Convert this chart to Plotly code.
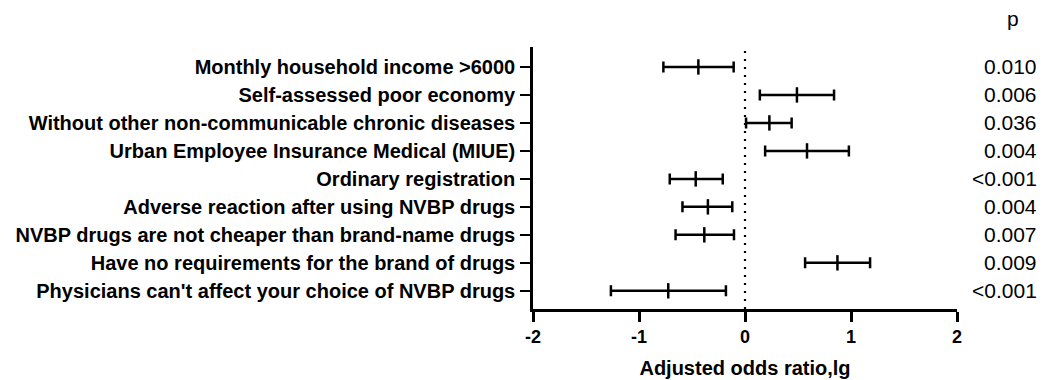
import plotly.graph_objects as go

categories = [
    "Monthly household income >6000",
    "Self-assessed poor economy",
    "Without other non-communicable chronic diseases",
    "Urban Employee Insurance Medical (MIUE)",
    "Ordinary registration",
    "Adverse reaction after using NVBP drugs",
    "NVBP drugs are not cheaper than brand-name drugs",
    "Have no requirements for the brand of drugs",
    "Physicians can't affect your choice of NVBP drugs",
]
estimate = [-0.44, 0.49, 0.23, 0.585, -0.465, -0.35, -0.384, 0.872, -0.724]
lower = [-0.77, 0.14, 0.01, 0.19, -0.71, -0.59, -0.655, 0.567, -1.265]
upper = [-0.107, 0.84, 0.44, 0.98, -0.21, -0.12, -0.104, 1.18, -0.18]
p_values = ["0.010", "0.006", "0.036", "0.004", "<0.001", "0.004", "0.007", "0.009", "<0.001"]
x_ticks = [-2, -1, 0, 1, 2]

rows = list(range(len(categories)))
FONT = "Liberation Sans, Arial, Helvetica, sans-serif"

fig = go.Figure()
fig.add_trace(go.Scatter(
    x=estimate, y=rows, mode="markers",
    marker=dict(symbol="line-ns-open", size=11, color="black",
                line=dict(width=2.5, color="black")),
    error_x=dict(type="data", symmetric=False,
                 array=[u - e for u, e in zip(upper, estimate)],
                 arrayminus=[e - l for e, l in zip(estimate, lower)],
                 color="black", thickness=2.5, width=5.5),
    showlegend=False, hoverinfo="skip",
))

fig.add_shape(type="line", x0=0, x1=0, xref="x", y0=0, y1=1, yref="paper",
              line=dict(color="black", width=2.2, dash="2px,6px"), layer="below")

for i, p in enumerate(p_values):
    fig.add_annotation(x=1.193, xref="paper", y=i, yref="y", text=p,
                       showarrow=False, xanchor="right", yanchor="middle",
                       font=dict(size=21, color="black", family=FONT))
fig.add_annotation(x=1.132, xref="paper", y=1.108, yref="paper", text="p",
                   showarrow=False, xanchor="center", yanchor="middle",
                   font=dict(size=21, color="black", family=FONT))

fig.update_layout(
    width=1045, height=380,
    margin=dict(l=525, r=96, t=38.5, b=78.7, autoexpand=False),
    paper_bgcolor="white", plot_bgcolor="white",
    font=dict(family=FONT, color="black"),
    xaxis=dict(range=[-2, 2], tickvals=x_ticks, ticktext=[f"<b>{t}</b>" for t in x_ticks],
               automargin=False,
               showgrid=False, zeroline=False, showline=True, linecolor="black",
               linewidth=2.5, ticks="outside", ticklen=10, tickwidth=2.5, tickcolor="black",
               tickfont=dict(size=18), title=dict(text="<b>Adjusted odds ratio,lg</b>",
               font=dict(size=20), standoff=15)),
    yaxis=dict(range=[8.65, -0.713], tickvals=rows,
               ticktext=[f"<b>{c}</b>" for c in categories],
               automargin=False,
               showgrid=False, zeroline=False, showline=True, linecolor="black",
               linewidth=2.5, ticks="outside", ticklen=10, tickwidth=2, tickcolor="black",
               tickfont=dict(size=20), ticklabelstandoff=1),
)

fig.write_html("out.html")
